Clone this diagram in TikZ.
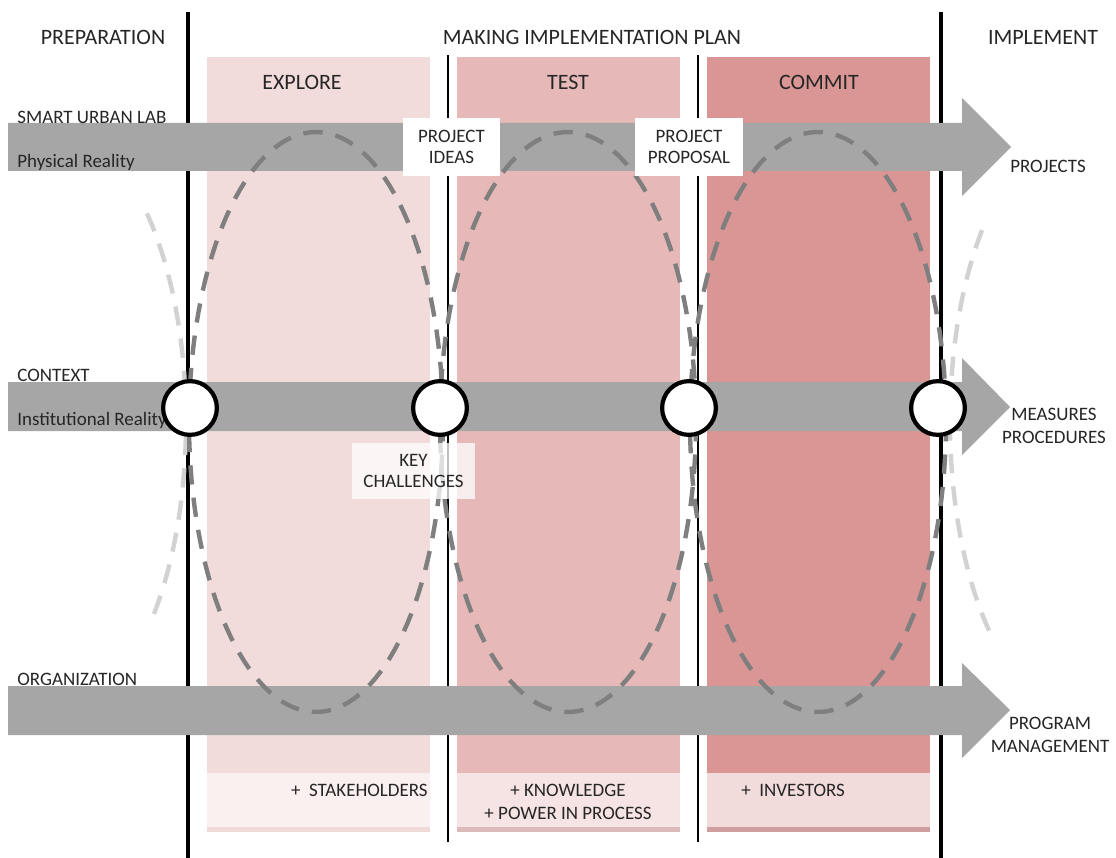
\documentclass[tikz,border=0pt]{standalone}
\usepackage{fontspec}
\setmainfont{Carlito}
\definecolor{txt}{HTML}{262626}
\definecolor{band}{HTML}{A6A6A6}
\definecolor{exploreC}{HTML}{F2DCDB}
\definecolor{testC}{HTML}{E6B9B8}
\definecolor{commitC}{HTML}{D99694}
\definecolor{exploreL}{HTML}{FAF0F0}
\definecolor{testL}{HTML}{F6E3E3}
\definecolor{commitL}{HTML}{F2DCDB}
\definecolor{exploreS}{HTML}{EFD9D9}
\definecolor{testS}{HTML}{DDBABA}
\definecolor{commitS}{HTML}{CF9E9E}
\definecolor{loopdark}{HTML}{7F7F7F}
\definecolor{looplight}{HTML}{D2D2D2}
\begin{document}
\begin{tikzpicture}[x=0.02cm,y=-0.02cm,
  head/.style={font=\fontsize{12.5}{15}\selectfont, text=txt, inner sep=0pt},
  lbl/.style={font=\fontsize{10.8}{13}\selectfont, text=txt, inner sep=0pt},
  tag/.style={font=\fontsize{10.8}{12}\selectfont, text=txt, align=center,
              inner sep=0pt, fill=white},
  phase/.style={draw=black, line width=2pt},
  divider/.style={draw=black, line width=0.8pt},
  loop/.style={draw=loopdark, line width=2.5pt, dash pattern=on 11pt off 7.5pt},
  faint/.style={draw=looplight, line width=2.5pt, dash pattern=on 11pt off 7.5pt},
  hub/.style={circle, draw=black, fill=white, line width=2.4pt,
              minimum size=30.6pt, inner sep=0pt}]
\useasboundingbox (0,0) rectangle (1116,858);
\fill[white] (0,0) rectangle (1116,858);

% stage columns
\fill[exploreC] (207,57) rectangle (430,773);
\fill[testC]    (457,57) rectangle (680,773);
\fill[commitC]  (707,57) rectangle (930,773);
% contribution panels under the columns
\fill[exploreL] (207,773) rectangle (430,827);
\fill[testL]    (457,773) rectangle (680,827);
\fill[commitL]  (707,773) rectangle (930,827);
\fill[exploreS] (207,827) rectangle (430,832);
\fill[testS]    (457,827) rectangle (680,832);
\fill[commitS]  (707,827) rectangle (930,832);

% phase separators
\draw[phase] (188,12) -- (188,858);
\draw[phase] (941,12) -- (941,858);
\draw[divider] (448,55) -- (448,842);
\draw[divider] (698,55) -- (698,842);

% three flows
\fill[band] (8,123) -- (962,123) -- (962,98) -- (1011,147) -- (962,196) -- (962,171) -- (8,171) -- cycle;
\fill[band] (8,382) -- (962,382) -- (962,358) -- (1010,407) -- (962,455) -- (962,431) -- (8,431) -- cycle;
\fill[band] (8,686) -- (962,686) -- (962,663) -- (1010,710) -- (962,758) -- (962,735) -- (8,735) -- cycle;

% iteration loops
\draw[faint] plot[domain=-46:44, samples=60] ({58+128*cos(\x)},{422+290*sin(\x)});
\draw[faint] plot[domain=134:224, samples=60] ({1078+128*cos(\x)},{422+290*sin(\x)});
\draw[loop] plot[domain=0:360, samples=140] ({316+127*cos(\x)},{422+290*sin(\x)}) -- cycle;
\draw[loop] plot[domain=0:360, samples=140] ({568+128*cos(\x)},{422+290*sin(\x)}) -- cycle;
\draw[loop] plot[domain=0:360, samples=140] ({818+128*cos(\x)},{422+290*sin(\x)}) -- cycle;

% phase headers
\node[head] (prep) at (103,37) {PREPARATION};
\node[head] (plan) at (592,37) {MAKING IMPLEMENTATION PLAN};
\node[head] (impl) at (1043,37) {IMPLEMENT};
\node[head] (explore) at (302,82) {EXPLORE};
\node[head] (test) at (568,82) {TEST};
\node[head] (commit) at (819,82) {COMMIT};

% flow labels
\node[lbl, anchor=west] (sul) at (17,117) {SMART URBAN LAB};
\node[lbl, anchor=west] (phys) at (17,162) {Physical Reality};
\node[lbl, anchor=west] (ctx) at (17,375) {CONTEXT};
\node[lbl, anchor=west] (inst) at (17,420) {Institutional Reality};
\node[lbl, anchor=west] (org) at (17,679) {ORGANIZATION};
\node[lbl] (projects) at (1048,166) {PROJECTS};
\node[lbl, align=center] (measures) at (1054,426) {MEASURES\\PROCEDURES};
\node[lbl, align=center] (program) at (1050,735) {PROGRAM\\MANAGEMENT};

% milestones
\node[tag, minimum width=55pt, minimum height=32.9pt] (ideas) at (451.5,147) {PROJECT\\IDEAS};
\node[tag, minimum width=61.2pt, minimum height=32.9pt] (proposal) at (689,147) {PROJECT\\PROPOSAL};
\node[tag, fill opacity=0.75, text opacity=1, minimum width=69.7pt, minimum height=31.7pt] (keych) at (413.5,471) {KEY\\CHALLENGES};

% gates on the context flow
\node[hub] (g1) at (190,408) {};
\node[hub] (g2) at (440,408) {};
\node[hub] (g3) at (689,408) {};
\node[hub] (g4) at (938,408) {};

% contributions
\node[lbl, anchor=east] (stake) at (428,790) {+\ \ STAKEHOLDERS};
\node[lbl, align=center, font=\fontsize{10.8}{13}\selectfont] (know) at (568,801.5) {+ KNOWLEDGE\\+ POWER IN PROCESS};
\node[lbl, anchor=west] (invest) at (741,790) {+\ \ INVESTORS};
\end{tikzpicture}
\end{document}
